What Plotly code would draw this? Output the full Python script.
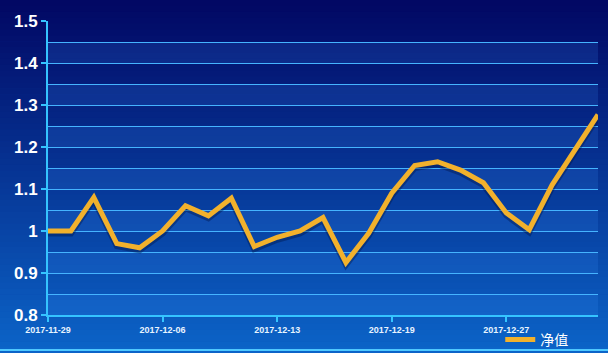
import plotly.graph_objects as go

dates = ["2017-11-29", "2017-11-30", "2017-12-01", "2017-12-04", "2017-12-05",
         "2017-12-06", "2017-12-07", "2017-12-08", "2017-12-11", "2017-12-12",
         "2017-12-13", "2017-12-14", "2017-12-15", "2017-12-16", "2017-12-18",
         "2017-12-19", "2017-12-20", "2017-12-21", "2017-12-22", "2017-12-25",
         "2017-12-27", "2017-12-28", "2017-12-29", "2018-01-02", "2018-01-03"]
nav = [1.00, 1.00, 1.08, 0.97, 0.96,
       1.00, 1.06, 1.036, 1.078, 0.963,
       0.985, 1.00, 1.032, 0.925, 0.995,
       1.09, 1.156, 1.165, 1.145, 1.115,
       1.043, 1.003, 1.11, 1.192, 1.277]
tick_dates = ["2017-11-29", "2017-12-06", "2017-12-13", "2017-12-19", "2017-12-27"]
y_ticks = [0.8, 0.9, 1.0, 1.1, 1.2, 1.3, 1.4, 1.5]
y_tick_text = ["0.8", "0.9", "1", "1.1", "1.2", "1.3", "1.4", "1.5"]
series_name = "净值"

W, H = 608, 353
ML, MR, MT, MB = 48, 10, 21, 38
PW, PH = W - ML - MR, H - MT - MB
YMIN, YMAX = 0.8, 1.5

fig = go.Figure()

# soft shadow of the line (same data, slightly shifted axis), drawn first
shift = 2.5 * (YMAX - YMIN) / PH
fig.add_trace(go.Scatter(x=dates, y=nav, mode="lines", yaxis="y2",
                         line=dict(color="rgba(0,20,70,0.4)", width=6),
                         showlegend=False, hoverinfo="skip"))
# main line on a top overlay with the same range as the visible axis
fig.add_trace(go.Scatter(x=dates, y=nav, mode="lines", name=series_name, yaxis="y3",
                         line=dict(color="#f2b12c", width=5)))

shapes = []
# background gradient
top = (2, 8, 100)
bot = (12, 100, 200)
n = 60
x0p, x1p = -ML / PW, 1 + MR / PW
y0p, y1p = -MB / PH, 1 + MT / PH
for i in range(n):
    t = i / (n - 1)
    c = tuple(int(top[k] + (bot[k] - top[k]) * t) for k in range(3))
    ya = y1p - (y1p - y0p) * i / n
    yb = y1p - (y1p - y0p) * (i + 1) / n
    shapes.append(dict(type="rect", xref="paper", yref="paper", x0=x0p, x1=x1p,
                       y0=yb - 0.002, y1=ya, line=dict(width=0),
                       fillcolor="rgb(%d,%d,%d)" % c, layer="below"))
# alternating lighter bands
for k in range(7):
    lo = YMIN + k * 0.1
    shapes.append(dict(type="rect", xref="paper", yref="y", x0=0, x1=1,
                       y0=lo, y1=lo + 0.05, line=dict(width=0),
                       fillcolor="rgba(60,150,255,0.16)", layer="below"))
# bottom bright line
yb_line = -(350 - MT - PH) / PH
shapes.append(dict(type="line", xref="paper", yref="paper", x0=x0p, x1=x1p,
                   y0=yb_line, y1=yb_line,
                   line=dict(color="#4fc8ff", width=2)))

bold = dict(family="Liberation Sans, Arial", weight="bold")

fig.update_layout(
    width=W, height=H,
    margin=dict(l=ML, r=MR, t=MT, b=MB, autoexpand=False),
    paper_bgcolor="#0a3d9a",
    plot_bgcolor="rgba(0,0,0,0)",
    shapes=shapes,
    showlegend=True,
    legend=dict(orientation="h", x=0.955, xanchor="right", y=-0.085, yanchor="middle",
                font=dict(color="white", size=14, family="Noto Sans CJK SC"),
                bgcolor="rgba(0,0,0,0)", borderwidth=0),
    xaxis=dict(type="category", range=[0, len(dates) - 1], automargin=False,
               tickmode="array", tickvals=tick_dates, ticktext=tick_dates,
               showgrid=False, showline=True, linecolor="#35c4ff", linewidth=2,
               ticks="outside", ticklen=5, tickcolor="#35c4ff", tickwidth=2,
               tickfont=dict(color="#e8f4ff", size=9, **bold),
               zeroline=False),
    yaxis=dict(range=[YMIN, YMAX], tickmode="array", tickvals=y_ticks,
               ticktext=y_tick_text, automargin=False,
               showgrid=True, gridcolor="#45b4ff", gridwidth=1.3,
               minor=dict(dtick=0.05, showgrid=True, gridcolor="#45b4ff", gridwidth=1.3),
               showline=True, linecolor="#35c4ff", linewidth=2,
               ticks="outside", ticklen=5, tickcolor="#35c4ff", tickwidth=2,
               tickfont=dict(color="white", size=17, **bold),
               zeroline=False),
    yaxis2=dict(range=[YMIN + shift, YMAX + shift], overlaying="y", visible=False),
    yaxis3=dict(range=[YMIN, YMAX], overlaying="y", visible=False),
)

fig.write_html("out.html")
